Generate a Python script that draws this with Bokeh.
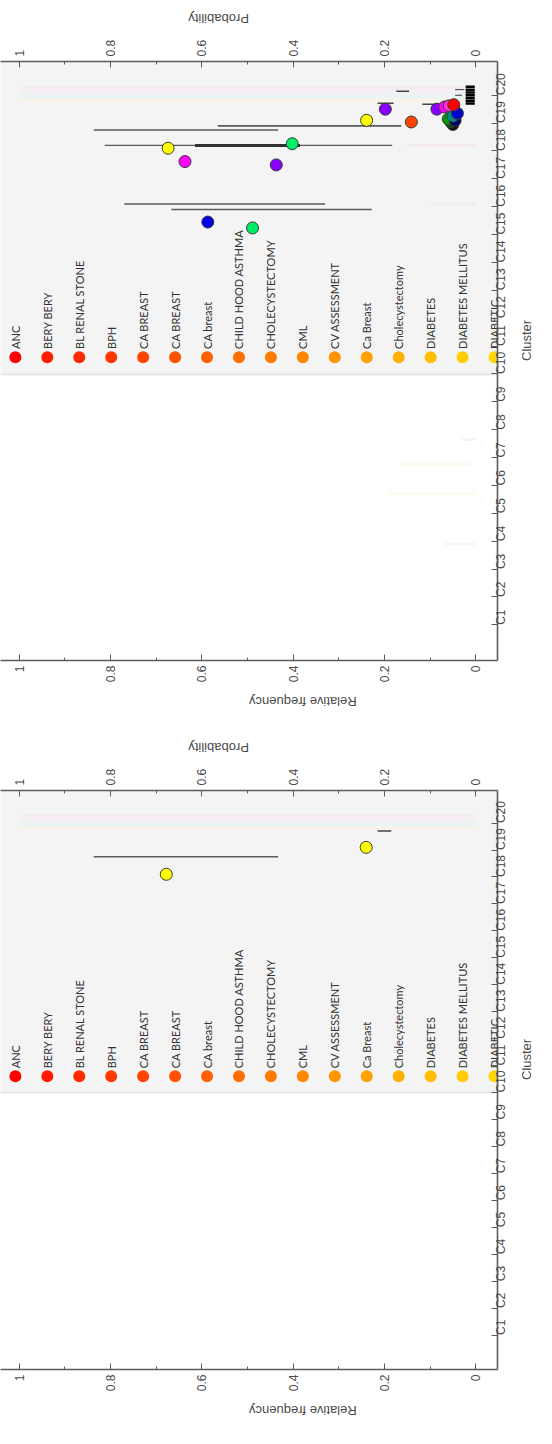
import math
from bokeh.plotting import figure
from bokeh.models import Range1d, LinearAxis, FixedTicker, NumeralTickFormatter
from bokeh.layouts import column
from bokeh.embed import file_html
from bokeh.resources import INLINE
from bokeh.core.properties import value

# ---------------- data ----------------
clusters = [f"C{i}" for i in range(1, 21)]
value_ticks = [0, 0.2, 0.4, 0.6, 0.8, 1]
value_minor = [0.1, 0.3, 0.5, 0.7, 0.9]

legend_labels = ["ANC", "BERY BERY", "BL RENAL STONE", "BPH", "CA BREAST", "CA BREAST",
                 "CA breast", "CHILD HOOD ASTHMA", "CHOLECYSTECTOMY", "CML", "CV ASSESSMENT",
                 "Ca Breast", "Cholecystectomy", "DIABETES", "DIABETES MELLITUS", "DIABETIC"]
legend_colors = ["#ff0000", "#ff1a00", "#ff2a00", "#ff3800", "#ff4500", "#ff5200",
                 "#ff6000", "#ff6e00", "#ff7b00", "#ff8800", "#ff9500", "#ffa200",
                 "#ffb000", "#ffbe00", "#ffcc00", "#ffd700"]

# top panel: points (probability, cluster position, colour)
top_pt_value = [0.674, 0.637, 0.402, 0.437, 0.587, 0.489, 0.198, 0.239, 0.141,
                0.050, 0.055, 0.060, 0.045, 0.050, 0.040, 0.085, 0.068, 0.058, 0.048]
top_pt_cluster = [18.10, 17.62, 18.26, 17.50, 15.45, 15.24, 19.50, 19.10, 19.04,
                  18.95, 19.05, 19.15, 19.10, 19.25, 19.35, 19.50, 19.58, 19.62, 19.66]
top_pt_color = ["#ffff00", "#ff00ff", "#00ee66", "#8800ff", "#0000ee", "#00ee66", "#8800ff",
                "#ffff00", "#ff4500", "#111111", "#004d00", "#009900", "#000066", "#008b8b",
                "#0000cd", "#8800ff", "#ff00ff", "#ff33cc", "#ff0000"]

# top panel: intervals (cluster position, low, high, colour, width)
top_err_cluster = [18.90, 18.75, 18.20, 18.20, 16.10, 15.90, 19.71, 20.14, 19.68,
                   19.70, 19.80, 19.90, 20.00, 20.10, 20.20, 20.30, 20.20, 20.00]
top_err_low = [0.163, 0.433, 0.183, 0.385, 0.330, 0.228, 0.180, 0.146, 0.070,
               0.002, 0.002, 0.002, 0.002, 0.002, 0.002, 0.002, 0.025, 0.030]
top_err_high = [0.565, 0.837, 0.813, 0.615, 0.770, 0.667, 0.215, 0.174, 0.117,
                0.022, 0.022, 0.022, 0.022, 0.022, 0.022, 0.022, 0.045, 0.045]
top_err_color = ["#5a5a5a", "#5a5a5a", "#5a5a5a", "#333333", "#5a5a5a", "#5a5a5a", "#444444",
                 "#444444", "#444444", "#000000", "#000000", "#000000", "#000000", "#000000",
                 "#000000", "#000000", "#333333", "#333333"]
top_err_width = [1.6, 1.6, 1.4, 3.0, 1.6, 1.6, 1.5, 1.5, 1.5,
                 2.5, 2.5, 2.5, 2.5, 2.5, 2.5, 2.5, 1.0, 1.0]

# top panel: faint intervals
top_faint_cluster = [20.25, 20.10, 19.95, 19.80, 18.20, 16.10, 7.65, 6.76, 5.70, 3.90]
top_faint_low = [0.0, 0.0, 0.0, 0.0, 0.0, 0.0, 0.0, 0.004, 0.0, 0.0]
top_faint_high = [1.0, 1.0, 1.0, 1.0, 0.150, 0.100, 0.030, 0.167, 0.190, 0.070]
top_faint_color = ["#fbe3ec", "#eeeaf6", "#e2f4f2", "#faf6dc", "#f3e4e8", "#e9e9e9",
                   "#ececec", "#fbf8e4", "#fbf8e4", "#efefef"]

# bottom panel
bot_pt_value = [0.678, 0.240]
bot_pt_cluster = [18.10, 19.10]
bot_pt_color = ["#ffff00", "#ffff00"]

bot_err_cluster = [18.75, 19.71]
bot_err_low = [0.433, 0.185]
bot_err_high = [0.837, 0.215]
bot_err_color = ["#5a5a5a", "#444444"]
bot_err_width = [1.6, 1.5]

bot_faint_cluster = [20.25, 20.10, 19.95, 19.80]
bot_faint_low = [0.0, 0.0, 0.0, 0.0]
bot_faint_high = [1.0, 1.0, 1.0, 1.0]
bot_faint_color = ["#fbe3ec", "#eeeaf6", "#e2f4f2", "#faf6dc"]

# ---------------- layout constants ----------------
X_LEFT, X_RIGHT = 1.0413, -0.0478
Y_BOTTOM, Y_TOP = -0.28, 21.21
PX_PER_UNIT = 460.0
LEG_X0_PX, LEG_STEP_PX = 15.0, 32.2
LEG_BOTTOM, LEG_DOT_Y, LEG_TEXT_GAP = 9.98, 10.6, 0.30

AXIS_COLOR = "#5c5c5c"
TEXT_COLOR = "#4a4a4a"
FONT = "Liberation Sans"


def set_orient(ax, ang):
    try:
        ax.axis_label_orientation = ang
    except Exception:
        pass


def style_value_axis(ax, title, standoff):
    ax.ticker = FixedTicker(ticks=value_ticks, minor_ticks=value_minor)
    ax.formatter = NumeralTickFormatter(format="0.[0]")
    ax.axis_label = title
    ax.axis_label_text_font = FONT
    ax.axis_label_text_font_size = "13px"
    ax.axis_label_text_font_style = "normal"
    ax.axis_label_text_color = TEXT_COLOR
    ax.axis_label_standoff = standoff
    ax.major_label_text_font = FONT
    ax.major_label_text_font_size = "12px"
    ax.major_label_text_color = TEXT_COLOR
    ax.major_label_orientation = math.pi / 2
    ax.major_label_standoff = 5
    ax.axis_line_color = AXIS_COLOR
    ax.axis_line_width = 1.6
    ax.major_tick_line_color = AXIS_COLOR
    ax.minor_tick_line_color = AXIS_COLOR
    ax.major_tick_in = 6
    ax.major_tick_out = 0
    ax.minor_tick_in = 3
    ax.minor_tick_out = 0
    set_orient(ax, math.pi)


def make_panel(height, min_top, min_bottom, pts, errs, faint, leg_bottom):
    p = figure(width=544, height=height,
               x_range=Range1d(X_LEFT, X_RIGHT), y_range=Range1d(Y_BOTTOM, Y_TOP),
               output_backend="svg", toolbar_location=None,
               x_axis_location="below", y_axis_location="right",
               min_border_left=0, min_border_right=43,
               min_border_top=min_top, min_border_bottom=min_bottom)
    p.outline_line_color = None
    p.grid.visible = False
    p.background_fill_color = "white"
    p.border_fill_color = "white"

    top_axis = LinearAxis()
    p.add_layout(top_axis, "above")
    style_value_axis(p.below[0], "Relative frequency", 16)
    style_value_axis(top_axis, "Probability", 18)

    ry = p.right[0]
    ry.ticker = FixedTicker(ticks=list(range(1, 21)), minor_ticks=[])
    ry.major_label_overrides = {i + 1: lab for i, lab in enumerate(clusters)}
    ry.axis_label = "Cluster"
    ry.axis_label_text_font = FONT
    ry.axis_label_text_font_size = "13px"
    ry.axis_label_text_font_style = "normal"
    ry.axis_label_text_color = TEXT_COLOR
    ry.axis_label_standoff = 8
    ry.major_label_text_font = FONT
    ry.major_label_text_font_size = "12px"
    ry.major_label_text_color = TEXT_COLOR
    ry.major_label_orientation = math.pi / 2
    ry.major_label_standoff = 4
    ry.axis_line_color = AXIS_COLOR
    ry.axis_line_width = 1.6
    ry.major_tick_line_color = AXIS_COLOR
    ry.major_tick_in = 6
    ry.major_tick_out = 0
    set_orient(ry, math.pi / 2)

    # legend box (background)
    p.quad(left=X_LEFT + 0.2, right=X_RIGHT - 0.2, bottom=leg_bottom, top=Y_TOP + 2,
           fill_color="#f4f4f4", line_color="#e1e1e1", line_width=1.5)

    # legend items
    lx = [X_LEFT - (LEG_X0_PX + LEG_STEP_PX * i) / PX_PER_UNIT for i in range(len(legend_labels))]
    p.scatter(x=lx, y=[LEG_DOT_Y] * len(lx), size=12, fill_color=legend_colors,
              line_color=None)
    p.text(x=lx, y=[LEG_DOT_Y + LEG_TEXT_GAP] * len(lx), text=legend_labels,
           angle=math.pi / 2, text_align="left", text_baseline="middle",
           text_font=value("Lato"), text_font_size="11px", text_color="#333333")

    fc, flo, fhi, fcol = faint
    p.segment(x0=flo, x1=fhi, y0=fc, y1=fc, line_color=fcol, line_width=3, line_alpha=0.55)

    ec, elo, ehi, ecol, ew = errs
    p.segment(x0=elo, x1=ehi, y0=ec, y1=ec, line_color=ecol, line_width=ew)

    pv, pc, pcol = pts
    p.scatter(x=pv, y=pc, size=12, fill_color=pcol, line_color="#3a3a3a", line_width=1)
    return p


p1 = make_panel(722, 55, 62,
                (top_pt_value, top_pt_cluster, top_pt_color),
                (top_err_cluster, top_err_low, top_err_high, top_err_color, top_err_width),
                (top_faint_cluster, top_faint_low, top_faint_high, top_faint_color),
                LEG_BOTTOM)
p2 = make_panel(706, 68, 56,
                (bot_pt_value, bot_pt_cluster, bot_pt_color),
                (bot_err_cluster, bot_err_low, bot_err_high, bot_err_color, bot_err_width),
                (bot_faint_cluster, bot_faint_low, bot_faint_high, bot_faint_color),
                10.0)

layout = column(p1, p2)
open("out.html", "w").write(file_html(layout, INLINE))
